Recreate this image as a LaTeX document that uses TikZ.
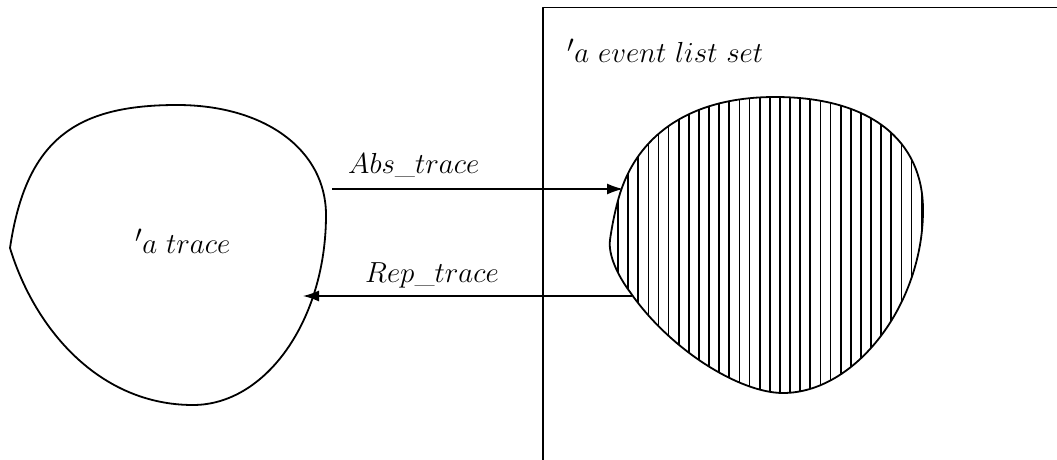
\documentclass[tikz,border=0pt]{standalone}
\usetikzlibrary{arrows.meta}
\begin{document}
\begin{tikzpicture}[x=1pt,y=-1pt,
    outline/.style={line width=1.8pt, line join=round},
    conn/.style={line width=1.4pt, -{Latex[length=16pt,width=11pt]}},
    lbl/.style={inner sep=0pt, anchor=base west, font=\Huge, scale=1.166},
    hatchline/.style={line width=1.7pt}]
  \useasboundingbox (0,0) rectangle (1057,460);

  % frame of the event list set (runs off the page to the right and bottom)
  \begin{scope}
    \clip (0,0) rectangle (1057,460);
    \draw[outline] (543,470) -- (543,7.5) -- (1070,7.5);
  \end{scope}

  % set of traces
  \def\tracepath{(10,248)
      .. controls (26,140) and (75,105) .. (177,105)
      .. controls (265,105) and (326,150) .. (326,215)
      .. controls (326,320) and (266,405) .. (193,405)
      .. controls (100,405) and (35,330) .. (10,248) -- cycle}
  \draw[outline] \tracepath;

  % set of event lists, hatched
  \def\evpath{(775,97)
      .. controls (870,97) and (923,140) .. (923,210)
      .. controls (923,305) and (855,393) .. (783,393)
      .. controls (740,393) and (670,350) .. (630,292)
      .. controls (618,276) and (608,255) .. (610,240)
      .. controls (612,225) and (617,200) .. (623,185)
      .. controls (642,135) and (690,97) .. (775,97) -- cycle}
  \begin{scope}
    \clip \evpath;
    \foreach \i in {0,...,31}
      \draw[hatchline] ({618+10.12*\i},80) -- ({618+10.12*\i},410);
  \end{scope}
  \draw[outline] \evpath;

  % labels
  \node[lbl] (tr)  at (135,253) {$'a\ trace$};
  \node[lbl] (ev)  at (567,63)  {$'a\ event\ list\ set$};
  \node[lbl] (abs) at (348,173) {$Abs\_trace$};
  \node[lbl] (rep) at (365,282) {$Rep\_trace$};

  % endpoints of the two mappings on the set boundaries
  \coordinate (absStart) at (332,189);
  \coordinate (absEnd)   at (623,189);
  \coordinate (repStart) at (632,296);
  \coordinate (repEnd)   at (303,296);

  \draw[conn] (absStart) -- (absEnd);
  \draw[conn] (repStart) -- (repEnd);
\end{tikzpicture}
\end{document}
